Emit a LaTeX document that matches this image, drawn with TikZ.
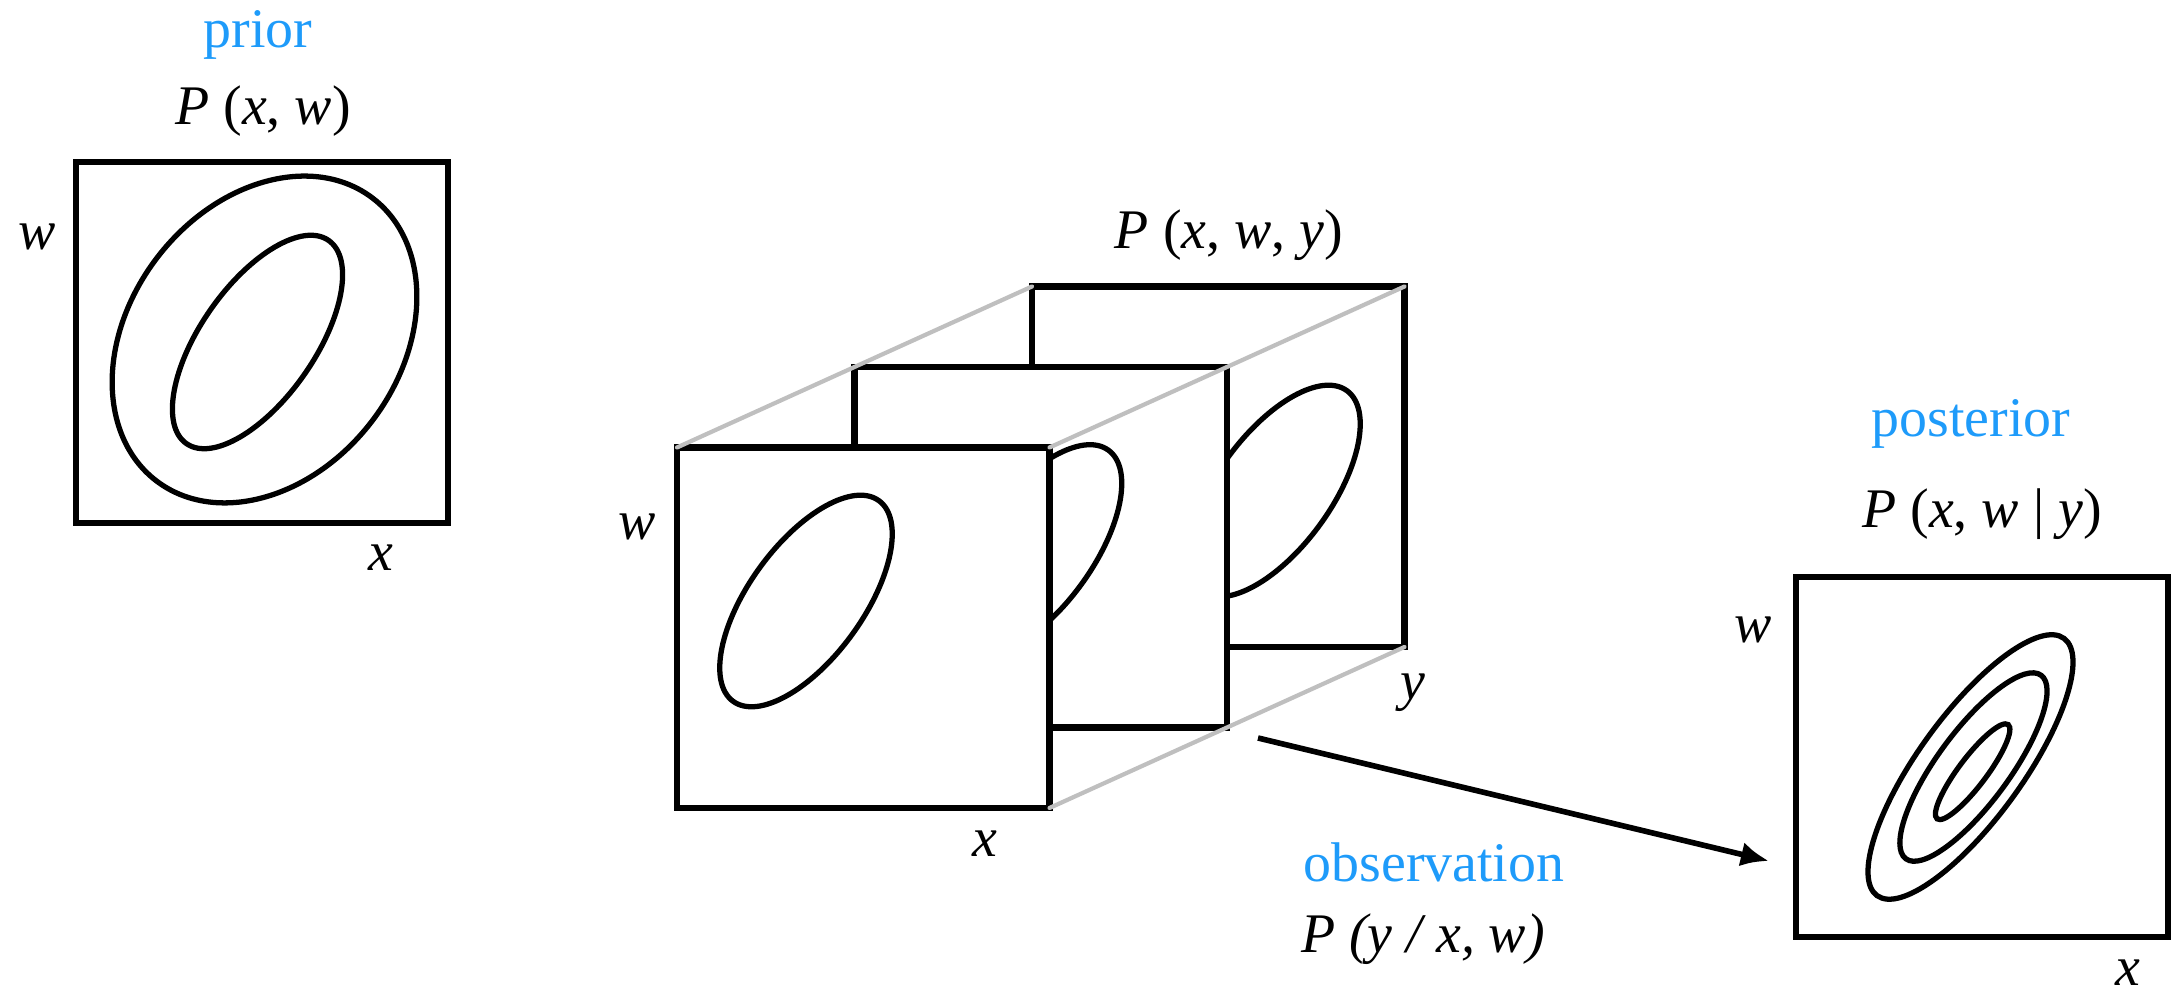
\documentclass[tikz,border=0pt]{standalone}
\usepackage{fontspec}
\setmainfont{Liberation Serif}
\usetikzlibrary{arrows.meta}
\definecolor{labelblue}{RGB}{30,155,250}
\tikzset{
  frame/.style={line width=1.75pt, fill=white},
  contour/.style={line width=1.5pt},
  depthline/.style={line width=1.2pt, draw=black!25, line cap=round},
  lbl/.style={inner sep=0pt, anchor=base, font=\fontsize{15.9}{19}\selectfont},
  head/.style={lbl, text=labelblue}}

\begin{document}
\begin{tikzpicture}
\useasboundingbox (0,0) rectangle (21.75,9.96);
% prior
\draw[frame] (0.76,4.73) rectangle (4.48,8.34);
\coordinate (po) at (2.645,6.565);
\coordinate (pi) at (2.575,6.54);
\draw[contour, rotate around={52.5:(po)}] (po) ellipse [x radius=1.78, y radius=1.35];
\draw[contour, rotate around={55:(pi)}] (pi) ellipse [x radius=1.24, y radius=0.57];
\node[head] (prior) at (2.58,9.48) {prior};
\node[lbl] (pxw) at (2.63,8.71) {\textit{P} (\textit{x}, \textit{w})};
\node[lbl] (pw) at (0.37,7.46) {\textit{w}};
\node[lbl] (px) at (3.81,4.25) {\textit{x}};

% joint: three slices along y, back to front
\foreach \k/\ex/\ey in {2/2.42/1.56, 1/1.81/1.77, 0/1.29/2.07}{
  \coordinate (bl\k) at ({6.77+1.775*\k},{1.88+0.805*\k});
  \coordinate (tr\k) at ({10.495+1.775*\k},{5.485+0.805*\k});
  \coordinate (tl\k) at (bl\k |- tr\k);
  \coordinate (br\k) at (tr\k |- bl\k);
  \coordinate (c\k) at ({6.77+1.775*\k+\ex},{1.88+0.805*\k+\ey});
  \draw[frame] (bl\k) rectangle (tr\k);
  \draw[contour, rotate around={54:(c\k)}] (c\k) ellipse [x radius=1.24, y radius=0.57];
}
\draw[depthline] (tl0) -- (tl2);
\draw[depthline] (tr0) -- (tr2);
\draw[depthline] (br0) -- (br2);
\node[lbl] (pxwy) at (12.29,7.47) {\textit{P} (\textit{x}, \textit{w}, \textit{y})};
\node[lbl] (jw) at (6.37,4.56) {\textit{w}};
\node[lbl] (jx) at (9.85,1.39) {\textit{x}};
\node[lbl] (jy) at (14.13,2.96) {\textit{y}};

% observation
\coordinate (obsfrom) at (12.58,2.58);
\coordinate (obsto) at (17.69,1.35);
\draw[line width=1.6pt, -{Latex[length=8pt,width=7pt]}] (obsfrom) -- (obsto);
\node[head] (obs) at (14.34,1.14) {observation};
\node[lbl] (pyxw) at (14.23,0.43) {\textit{P (y / x, w)}};

% posterior
\draw[frame] (17.96,0.59) rectangle (21.68,4.19);
\coordinate (q1) at (19.705,2.29);
\coordinate (q2) at (19.735,2.29);
\coordinate (q3) at (19.725,2.24);
\draw[contour, rotate around={54:(q1)}] (q1) ellipse [x radius=1.59, y radius=0.52];
\draw[contour, rotate around={53.6:(q2)}] (q2) ellipse [x radius=1.14, y radius=0.36];
\draw[contour, rotate around={53:(q3)}] (q3) ellipse [x radius=0.59, y radius=0.14];
\node[head] (post) at (19.71,5.59) {posterior};
\node[lbl] (pxwgy) at (19.82,4.68) {\textit{P} (\textit{x}, \textit{w} | \textit{y})};
\node[lbl] (qw) at (17.53,3.53) {\textit{w}};
\node[lbl] (qx) at (21.28,0.1) {\textit{x}};
\end{tikzpicture}
\end{document}
